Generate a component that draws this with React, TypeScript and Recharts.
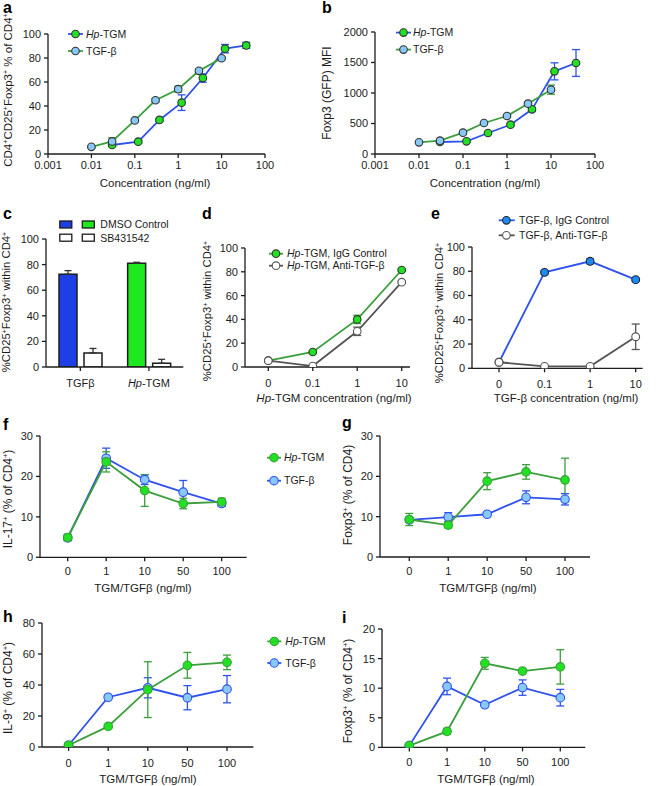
import React from 'react';
import { LineChart, Line, BarChart, Bar, Cell, XAxis, YAxis, ErrorBar, Legend } from 'recharts';

const FONT = '"Liberation Sans", Arial, Helvetica, sans-serif';

// ---------------- data ----------------
const logTicks = [0.001, 0.01, 0.1, 1, 10, 100];

// panel a
const aTgmConc = [0.03, 0.12, 0.37, 1.2, 3.7, 12, 37];
const aTgmPct = [7.5, 10.3, 28.4, 42.8, 63.3, 87.8, 90.5];
const aTgmSem = [1, 1, 1.2, 6.5, 3.5, 3.5, 2.5];
const aTgfConc = [0.01, 0.03, 0.1, 0.3, 1, 3, 10];
const aTgfPct = [6, 10.5, 28, 44.8, 54, 69.3, 79.8];
const aTgfSem = [1, 3, 1, 1.5, 2.5, 1.5, 1];
const aTicksY = [0, 20, 40, 60, 80, 100];

// panel b
const bTgmMfi = [197, 208, 344, 481, 732, 1355, 1492];
const bTgmSem = [20, 15, 20, 25, 30, 140, 220];
const bTgfMfi = [191, 219, 350, 508, 623, 825, 1055];
const bTgfSem = [15, 20, 15, 15, 20, 25, 75];
const bTicksY = [0, 500, 1000, 1500, 2000];

// panel c
const cCats = ['TGFβ', 'Hp-TGM'];
const cDmso = [72.5, 81];
const cDmsoSem = [2.8, 0.8];
const cSb = [11, 3];
const cSbSem = [3.5, 3];
const cDmsoColors = ['#1f3fe6', '#1ee81e'];

// panels d, e
const deCats = ['0', '0.1', '1', '10'];
const dIgg = [5.3, 12.6, 40, 81.5];
const dIggSem = [0.5, 1.2, 3.5, 1];
const dAnti = [5.3, 0.8, 30, 71.3];
const dAntiSem = [0.5, 0.5, 3.5, 1];
const eIgg = [5, 79.1, 88.2, 73.1];
const eIggSem = [0.5, 1.5, 2, 1.2];
const eAnti = [5, 1.6, 1.6, 26];
const eAntiSem = [1, 0.5, 0.5, 10.5];
const pctTicks = [0, 20, 40, 60, 80, 100];

// panels f-i
const doseCats = ['0', '1', '10', '50', '100'];
const fTgm = [4.9, 23.6, 16.5, 13.3, 13.7];
const fTgmSem = [0.8, 2.5, 3.9, 1.3, 0.9];
const fTgf = [4.8, 24.5, 19.2, 16.1, 13.3];
const fTgfSem = [0.6, 2.5, 1.2, 2.9, 0.7];
const fTicksY = [0, 10, 20, 30];

const gTgm = [9.3, 7.9, 18.8, 21.1, 19.1];
const gTgmSem = [1.5, 0.7, 2.1, 1.8, 5.4];
const gTgf = [9.2, 9.9, 10.6, 14.8, 14.3];
const gTgfSem = [0.6, 1.1, 0.4, 1.6, 1.4];
const gTicksY = [0, 10, 20, 30];

const hTgm = [1.1, 13.3, 37, 52.7, 54.6];
const hTgmSem = [0.5, 1, 18, 8.3, 4.7];
const hTgf = [1.1, 32.1, 38.2, 31.8, 37.3];
const hTgfSem = [0.5, 1, 6.5, 7.8, 8.8];
const hTicksY = [0, 20, 40, 60, 80];

const iTgm = [0.3, 2.7, 14.2, 12.9, 13.6];
const iTgmSem = [0.2, 0.5, 1, 0.3, 2.9];
const iTgf = [0.3, 10.3, 7.2, 10.1, 8.4];
const iTgfSem = [0.2, 1.4, 0.3, 1.3, 1.4];
const iTicksY = [0, 5, 10, 15, 20];

// ---------------- tables ----------------
const pts = (xs: number[], ys: number[], es: number[]) => xs.map((x, i) => ({ x, y: ys[i], e: es[i] }));
const catTable = (cats: string[], s1: number[], e1: number[], s2: number[], e2: number[]) =>
  cats.map((c, i) => ({ c, s1: s1[i], e1: e1[i], s2: s2[i], e2: e2[i] }));

const aTgmData = pts(aTgmConc, aTgmPct, aTgmSem);
const aTgfData = pts(aTgfConc, aTgfPct, aTgfSem);
const bTgmData = pts(aTgmConc, bTgmMfi, bTgmSem);
const bTgfData = pts(aTgfConc, bTgfMfi, bTgfSem);
const cData = cCats.map((c, i) => ({ c, dmso: cDmso[i], dmsoE: [0, cDmsoSem[i]], sb: cSb[i], sbE: [0, cSbSem[i]] }));
const dData = catTable(deCats, dIgg, dIggSem, dAnti, dAntiSem);
const eData = catTable(deCats, eIgg, eIggSem, eAnti, eAntiSem);
const fData = catTable(doseCats, fTgm, fTgmSem, fTgf, fTgfSem);
const gData = catTable(doseCats, gTgm, gTgmSem, gTgf, gTgfSem);
const hData = catTable(doseCats, hTgm, hTgmSem, hTgf, hTgfSem);
const iData = catTable(doseCats, iTgm, iTgmSem, iTgf, iTgfSem);

// ---------------- style ----------------
const DARK = '#1c1c1c';
const BLUE = '#2f52ee';
const GREEN_LINE = '#3b9f3b';
const GREEN_FILL = '#22e022';
const LBLUE = '#88c8f6';
const GRAY = '#555555';
const EBLUE = '#1d8cf0';

type Geo = { L: number; T: number; R: number; B: number; extraR?: number };
const ML = 44, MT = 16, MR = 12, MB = 36;
const dims = (g: Geo) => ({ width: g.R - g.L + ML + MR + (g.extraR || 0), height: g.B - g.T + MT + MB });
const place = (g: Geo): React.CSSProperties => ({ position: 'absolute', left: g.L - ML, top: g.T - MT });
const margin = (g: Geo) => ({ top: MT, right: MR + (g.extraR || 0), left: 0, bottom: 0 });

const gA: Geo = { L: 48, T: 34, R: 265, B: 154 };
const gB: Geo = { L: 375, T: 31.7, R: 595, B: 153.7 };
const gC: Geo = { L: 45.7, T: 239.3, R: 183, B: 367.3 };
const gD: Geo = { L: 245, T: 248.3, R: 410, B: 367.3 };
const gE: Geo = { L: 472.3, T: 246.7, R: 643, B: 368 };
const gF: Geo = { L: 40, T: 436, R: 246.7, B: 557.3, extraR: 90 };
const gG: Geo = { L: 380, T: 436, R: 590, B: 557 };
const gH: Geo = { L: 41.7, T: 623.3, R: 253, B: 747.3, extraR: 90 };
const gI: Geo = { L: 381.7, T: 629.3, R: 585, B: 747.7 };

const tickStyle = { fontSize: 11, fill: DARK, fontFamily: FONT };
const axisLine = { stroke: DARK, strokeWidth: 1.3 };
const xCommon = { height: MB, tick: tickStyle, tickSize: 4, axisLine, tickLine: axisLine, interval: 0 as const };
const yCommon = {
  width: ML, type: 'number' as const, tick: tickStyle, tickSize: 4, tickMargin: 3,
  axisLine, tickLine: axisLine, interval: 0 as const, allowDataOverflow: true,
};

function series(key: string, errKey: string, line: string, fill: string, stroke: string, r: number, errColor: string, data?: any[]) {
  return (
    <Line
      key={key + line}
      data={data}
      dataKey={key}
      stroke={line}
      strokeWidth={1.8}
      dot={{ r, fill, stroke, strokeWidth: 1.1 }}
      activeDot={false}
      isAnimationActive={false}
      legendType="none"
    >
      <ErrorBar dataKey={errKey} direction="y" width={4} stroke={errColor} strokeWidth={1.3} />
    </Line>
  );
}

type Seg = { t: string; i?: boolean };
type LegRow = { y: number; line: string; fill: string; stroke: string; r?: number; label: Seg[] };
type LegSpec = { x1: number; x2: number; cx: number; tx: number; rows: LegRow[] };

function legendFor(g: Geo, spec: LegSpec) {
  const ox = g.L - ML, oy = g.T - MT;
  const d = dims(g);
  return (
    <Legend
      layout="vertical"
      align="center"
      verticalAlign="middle"
      wrapperStyle={{ left: 0, top: 0, width: d.width, height: d.height, pointerEvents: 'none' }}
      content={() => (
        <svg width={d.width} height={d.height} style={{ display: 'block', overflow: 'visible' }}>
          {spec.rows.map((r, k) => (
            <g key={k}>
              <line x1={spec.x1 - ox} x2={spec.x2 - ox} y1={r.y - oy} y2={r.y - oy} stroke={r.line} strokeWidth={1.8} />
              <circle cx={spec.cx - ox} cy={r.y - oy} r={r.r ?? 3.8} fill={r.fill} stroke={r.stroke} strokeWidth={1.1} />
              <text x={spec.tx - ox} y={r.y - oy} dy="0.36em" fontSize={10.5} fontFamily={FONT} fill={DARK}>
                {r.label.map((s, j) => (
                  <tspan key={j} fontStyle={s.i ? 'italic' : 'normal'}>{s.t}</tspan>
                ))}
              </text>
            </g>
          ))}
        </svg>
      )}
    />
  );
}

function legendC(g: Geo) {
  const ox = g.L - ML, oy = g.T - MT;
  const d = dims(g);
  const rows = [
    { y: 221.3, fills: [cDmsoColors[0], cDmsoColors[1]], label: 'DMSO Control', ty: 225 },
    { y: 234.5, fills: ['#ffffff', '#ffffff'], label: 'SB431542', ty: 238.3 },
  ];
  return (
    <Legend
      layout="vertical"
      align="center"
      verticalAlign="middle"
      wrapperStyle={{ left: 0, top: 0, width: d.width, height: d.height, pointerEvents: 'none' }}
      content={() => (
        <svg width={d.width} height={d.height} style={{ display: 'block', overflow: 'visible' }}>
          {rows.map((r, k) => (
            <g key={k}>
              <rect x={59.5 - ox} y={r.y - oy} width={12} height={7} fill={r.fills[0]} stroke={DARK} strokeWidth={1.3} />
              <rect x={82 - ox} y={r.y - oy} width={12} height={7} fill={r.fills[1]} stroke={DARK} strokeWidth={1.3} />
              <text x={100 - ox} y={r.ty - oy} dy="0.36em" fontSize={10.5} fontFamily={FONT} fill={DARK}>{r.label}</text>
            </g>
          ))}
        </svg>
      )}
    />
  );
}

const fmtLog = (v: number) => String(v);

const CTick = (props: any) => {
  const { x, y, payload } = props;
  const v = String(payload.value);
  return (
    <text x={x} y={y} dy="0.71em" textAnchor="middle" fontSize={11} fontFamily={FONT} fill={DARK}>
      {v === 'Hp-TGM' ? (
        <>
          <tspan fontStyle="italic">Hp</tspan>
          <tspan>-TGM</tspan>
        </>
      ) : (
        v
      )}
    </text>
  );
};

// ---------------- text helpers ----------------
const Sup = () => <span style={{ fontSize: '0.62em', verticalAlign: '0.55em', lineHeight: 0 }}>+</span>;

function VLabel({ x, y, size = 12, children }: { x: number; y: number; size?: number; children: React.ReactNode }) {
  return (
    <div
      style={{
        position: 'absolute', left: x, top: y, transform: 'translate(-50%,-50%) rotate(-90deg)',
        whiteSpace: 'nowrap', fontSize: size, fontFamily: FONT, color: DARK, lineHeight: 1,
      }}
    >
      {children}
    </div>
  );
}

function HLabel({ x, y, size = 11.5, children }: { x: number; y: number; size?: number; children: React.ReactNode }) {
  return (
    <div
      style={{
        position: 'absolute', left: x, top: y, transform: 'translate(-50%,-50%)',
        whiteSpace: 'nowrap', fontSize: size, fontFamily: FONT, color: DARK, lineHeight: 1,
      }}
    >
      {children}
    </div>
  );
}

function Letter({ x, base, ch }: { x: number; base: number; ch: string }) {
  return (
    <div
      style={{
        position: 'absolute', left: x, top: base - 13.5, fontSize: 16, lineHeight: '16px',
        fontWeight: 'bold', fontFamily: FONT, color: '#000',
      }}
    >
      {ch}
    </div>
  );
}

const CD25 = () => (
  <>
    %CD25<Sup />Foxp3<Sup /> within CD4<Sup />
  </>
);

const greenLeg = (y: number): LegRow => ({ y, line: GREEN_LINE, fill: GREEN_FILL, stroke: GREEN_LINE, r: 4.2, label: [{ t: 'Hp', i: true }, { t: '-TGM' }] });
const blueLeg = (y: number): LegRow => ({ y, line: BLUE, fill: LBLUE, stroke: BLUE, r: 4.2, label: [{ t: 'TGF-β' }] });

// ---------------- app ----------------
export default function App() {
  return (
    <div style={{ position: 'absolute', left: 0, top: 0, width: 660, height: 786, background: '#fff', overflow: 'hidden' }}>
      {/* a */}
      <div style={place(gA)}>
        <LineChart {...dims(gA)} margin={margin(gA)}>
          <XAxis {...xCommon} type="number" dataKey="x" scale="log" domain={[0.001, 100]} ticks={logTicks} allowDataOverflow tickMargin={3} tickFormatter={fmtLog} />
          <YAxis {...yCommon} domain={[0, 100]} ticks={aTicksY} />
          {series('y', 'e', BLUE, GREEN_FILL, '#333', 3.8, BLUE, aTgmData)}
          {series('y', 'e', GREEN_LINE, LBLUE, '#333', 3.8, GREEN_LINE, aTgfData)}
          {legendFor(gA, {
            x1: 68, x2: 83, cx: 75.5, tx: 86,
            rows: [
              { y: 34, line: BLUE, fill: GREEN_FILL, stroke: '#333', label: [{ t: 'Hp', i: true }, { t: '-TGM' }] },
              { y: 51, line: GREEN_LINE, fill: LBLUE, stroke: '#333', label: [{ t: 'TGF-β' }] },
            ],
          })}
        </LineChart>
      </div>

      {/* b */}
      <div style={place(gB)}>
        <LineChart {...dims(gB)} margin={margin(gB)}>
          <XAxis {...xCommon} type="number" dataKey="x" scale="log" domain={[0.001, 100]} ticks={logTicks} allowDataOverflow tickMargin={3} tickFormatter={fmtLog} />
          <YAxis {...yCommon} domain={[0, 2000]} ticks={bTicksY} />
          {series('y', 'e', BLUE, GREEN_FILL, '#333', 3.8, BLUE, bTgmData)}
          {series('y', 'e', GREEN_LINE, LBLUE, '#333', 3.8, GREEN_LINE, bTgfData)}
          {legendFor(gB, {
            x1: 396, x2: 411, cx: 403.5, tx: 413,
            rows: [
              { y: 32.3, line: BLUE, fill: GREEN_FILL, stroke: '#333', label: [{ t: 'Hp', i: true }, { t: '-TGM' }] },
              { y: 49.3, line: GREEN_LINE, fill: LBLUE, stroke: '#333', label: [{ t: 'TGF-β' }] },
            ],
          })}
        </LineChart>
      </div>

      {/* c */}
      <div style={place(gC)}>
        <BarChart {...dims(gC)} margin={margin(gC)} data={cData} barSize={18} barGap={7}>
          <XAxis {...xCommon} dataKey="c" type="category" tickMargin={8} tick={CTick} />
          <YAxis {...yCommon} domain={[0, 100]} ticks={pctTicks} />
          <Bar dataKey="dmso" stroke={DARK} strokeWidth={1.5} isAnimationActive={false} legendType="none">
            {cData.map((_, i) => (
              <Cell key={i} fill={cDmsoColors[i]} />
            ))}
            <ErrorBar dataKey="dmsoE" direction="y" width={3.5} stroke="#333" strokeWidth={1.3} />
          </Bar>
          <Bar dataKey="sb" fill="#ffffff" stroke={DARK} strokeWidth={1.5} isAnimationActive={false} legendType="none">
            <ErrorBar dataKey="sbE" direction="y" width={3.5} stroke="#333" strokeWidth={1.3} />
          </Bar>
          {legendC(gC)}
        </BarChart>
      </div>

      {/* d */}
      <div style={place(gD)}>
        <LineChart {...dims(gD)} margin={margin(gD)} data={dData}>
          <XAxis {...xCommon} dataKey="c" type="category" padding={{ left: 23.3, right: 8.3 }} tickMargin={8} />
          <YAxis {...yCommon} domain={[0, 100]} ticks={pctTicks} />
          {series('s1', 'e1', GREEN_LINE, GREEN_FILL, '#333', 3.8, GREEN_LINE)}
          {series('s2', 'e2', GRAY, '#ffffff', GRAY, 3.8, GRAY)}
          {legendFor(gD, {
            x1: 269, x2: 283, cx: 276, tx: 287,
            rows: [
              { y: 254, line: GREEN_LINE, fill: GREEN_FILL, stroke: '#333', label: [{ t: 'Hp', i: true }, { t: '-TGM, IgG Control' }] },
              { y: 266, line: GRAY, fill: '#ffffff', stroke: GRAY, label: [{ t: 'Hp', i: true }, { t: '-TGM, Anti-TGF-β' }] },
            ],
          })}
        </LineChart>
      </div>

      {/* e */}
      <div style={place(gE)}>
        <LineChart {...dims(gE)} margin={margin(gE)} data={eData}>
          <XAxis {...xCommon} dataKey="c" type="category" padding={{ left: 27, right: 7 }} tickMargin={8} />
          <YAxis {...yCommon} domain={[0, 100]} ticks={pctTicks} />
          {series('s1', 'e1', BLUE, EBLUE, '#223', 3.9, BLUE)}
          {series('s2', 'e2', GRAY, '#ffffff', GRAY, 3.9, GRAY)}
          {legendFor(gE, {
            x1: 499, x2: 515, cx: 506.7, tx: 519.3,
            rows: [
              { y: 220, line: BLUE, fill: EBLUE, stroke: '#223', label: [{ t: 'TGF-β, IgG Control' }] },
              { y: 235, line: GRAY, fill: '#ffffff', stroke: GRAY, label: [{ t: 'TGF-β, Anti-TGF-β' }] },
            ],
          })}
        </LineChart>
      </div>

      {/* f */}
      <div style={place(gF)}>
        <LineChart {...dims(gF)} margin={margin(gF)} data={fData}>
          <XAxis {...xCommon} dataKey="c" type="category" padding={{ left: 27.7, right: 25 }} tickMargin={6} />
          <YAxis {...yCommon} domain={[0, 30]} ticks={fTicksY} />
          {series('s2', 'e2', BLUE, LBLUE, BLUE, 4.3, BLUE)}
          {series('s1', 'e1', GREEN_LINE, GREEN_FILL, GREEN_LINE, 4.3, GREEN_LINE)}
          {legendFor(gF, { x1: 267, x2: 281, cx: 274, tx: 284, rows: [greenLeg(457.7), blueLeg(480.7)] })}
        </LineChart>
      </div>

      {/* g */}
      <div style={place(gG)}>
        <LineChart {...dims(gG)} margin={margin(gG)} data={gData}>
          <XAxis {...xCommon} dataKey="c" type="category" padding={{ left: 29.3, right: 25 }} tickMargin={6} />
          <YAxis {...yCommon} domain={[0, 30]} ticks={gTicksY} />
          {series('s2', 'e2', BLUE, LBLUE, BLUE, 4.3, BLUE)}
          {series('s1', 'e1', GREEN_LINE, GREEN_FILL, GREEN_LINE, 4.3, GREEN_LINE)}
        </LineChart>
      </div>

      {/* h */}
      <div style={place(gH)}>
        <LineChart {...dims(gH)} margin={margin(gH)} data={hData}>
          <XAxis {...xCommon} dataKey="c" type="category" padding={{ left: 26.6, right: 26.3 }} tickMargin={8} />
          <YAxis {...yCommon} domain={[0, 80]} ticks={hTicksY} />
          {series('s2', 'e2', BLUE, LBLUE, BLUE, 4.3, BLUE)}
          {series('s1', 'e1', GREEN_LINE, GREEN_FILL, GREEN_LINE, 4.3, GREEN_LINE)}
          {legendFor(gH, { x1: 267, x2: 281, cx: 274, tx: 285, rows: [greenLeg(641.7), blueLeg(663.3)] })}
        </LineChart>
      </div>

      {/* i */}
      <div style={place(gI)}>
        <LineChart {...dims(gI)} margin={margin(gI)} data={iData}>
          <XAxis {...xCommon} dataKey="c" type="category" padding={{ left: 27.3, right: 25 }} tickMargin={6.5} />
          <YAxis {...yCommon} domain={[0, 20]} ticks={iTicksY} />
          {series('s2', 'e2', BLUE, LBLUE, BLUE, 4.3, BLUE)}
          {series('s1', 'e1', GREEN_LINE, GREEN_FILL, GREEN_LINE, 4.3, GREEN_LINE)}
        </LineChart>
      </div>

      {/* panel letters */}
      <Letter x={3} base={13.3} ch="a" />
      <Letter x={322} base={13.3} ch="b" />
      <Letter x={3} base={219} ch="c" />
      <Letter x={202} base={219} ch="d" />
      <Letter x={431} base={219.3} ch="e" />
      <Letter x={3} base={430} ch="f" />
      <Letter x={342} base={428} ch="g" />
      <Letter x={3} base={622.3} ch="h" />
      <Letter x={342} base={623.3} ch="i" />

      {/* y-axis titles */}
      <VLabel x={9} y={90} size={11.5}>CD4<Sup />CD25<Sup />Foxp3<Sup /> % of CD4<Sup /></VLabel>
      <VLabel x={327} y={92.5}>Foxp3 (GFP) MFI</VLabel>
      <VLabel x={7} y={302} size={11.3}><CD25 /></VLabel>
      <VLabel x={208} y={311} size={11.3}><CD25 /></VLabel>
      <VLabel x={440} y={313} size={11.3}><CD25 /></VLabel>
      <VLabel x={8} y={499}>IL-17<Sup /> (% of CD4<Sup />)</VLabel>
      <VLabel x={348} y={495}>Foxp3<Sup /> (% of CD4)</VLabel>
      <VLabel x={7.5} y={688}>IL-9<Sup /> (% of CD4<Sup />)</VLabel>
      <VLabel x={348} y={691}>Foxp3<Sup /> (% of CD4<Sup />)</VLabel>

      {/* x-axis titles */}
      <HLabel x={155} y={184}>Concentration (ng/ml)</HLabel>
      <HLabel x={485} y={184}>Concentration (ng/ml)</HLabel>
      <HLabel x={334} y={399}><i>Hp</i>-TGM concentration (ng/ml)</HLabel>
      <HLabel x={566} y={399}>TGF-β concentration (ng/ml)</HLabel>
      <HLabel x={143} y={589}>TGM/TGFβ (ng/ml)</HLabel>
      <HLabel x={488} y={589}>TGM/TGFβ (ng/ml)</HLabel>
      <HLabel x={148} y={780}>TGM/TGFβ (ng/ml)</HLabel>
      <HLabel x={486} y={780}>TGM/TGFβ (ng/ml)</HLabel>
    </div>
  );
}
